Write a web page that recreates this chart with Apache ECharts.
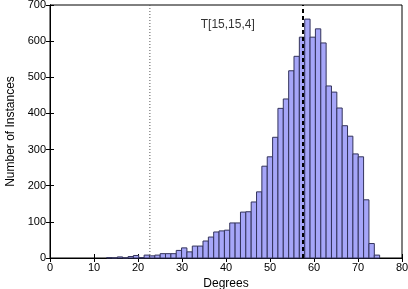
<!DOCTYPE html>
<html>
<head>
<meta charset="utf-8">
<script src="https://cdn.jsdelivr.net/npm/echarts@6/dist/echarts.min.js"></script>
<style>html,body{margin:0;padding:0;background:#fff}#c{width:408px;height:289px}</style>
</head>
<body>
<div id="c"></div>
<script>
// bin centers (degrees)
var binCenters = [13.48,14.70,15.91,17.13,18.35,19.56,20.78,22.00,23.21,24.43,25.65,26.86,28.08,29.30,30.51,31.73,32.95,34.16,35.38,36.60,37.81,39.03,40.25,41.46,42.68,43.90,45.11,46.33,47.55,48.76,49.98,51.20,52.41,53.63,54.85,56.06,57.28,58.50,59.71,60.93,62.15,63.36,64.58,65.80,67.01,68.23,69.45,70.66,71.88,73.10,74.31];
var binWidth = 1.2166;
var counts = [1,0,3,0,4,7,1,8,6,8,12,12,12,21,28,17,33,33,47,58,72,75,77,97,97,127,128,155,183,254,280,334,414,440,518,558,611,661,611,634,595,476,459,415,366,337,288,280,161,40,8];
var xTicks = [0,10,20,30,40,50,60,70,80];
var yTicks = [0,100,200,300,400,500,600,700];
var dashedLineX = 57.5;
var dottedLineX = 22.7;
var labelText = 'T[15,15,4]';
var labelPos = [40.4, 645];

var font = 'Liberation Sans, Arial, Helvetica, sans-serif';
var chart = echarts.init(document.getElementById('c'), null, {renderer: 'canvas'});
var histData = binCenters.map(function (c, i) { return [c, counts[i]]; });

var axisCommon = {
  axisLine: {show: true, lineStyle: {color: '#000', width: 1}},
  axisTick: {show: true, inside: true, length: 4, lineStyle: {color: '#000'}},
  splitLine: {show: false}
};

var option = {
  animation: false,
  backgroundColor: '#fff',
  grid: {left: 50, right: 6, top: 5, bottom: 31, containLabel: false, outerBoundsMode: 'none',
         show: true, borderColor: '#000', borderWidth: 1, backgroundColor: 'transparent'},
  xAxis: [
    Object.assign({
      type: 'value', min: xTicks[0], max: xTicks[xTicks.length - 1], interval: 10, position: 'bottom',
      name: 'Degrees', nameLocation: 'middle', nameGap: 13,
      nameTextStyle: {fontFamily: font, fontSize: 12, color: '#000'},
      axisLabel: {fontFamily: font, fontSize: 11, color: '#000', margin: 4}
    }, axisCommon),
    Object.assign({
      type: 'value', min: xTicks[0], max: xTicks[xTicks.length - 1], interval: 10, position: 'top',
      axisLabel: {show: false}
    }, axisCommon)
  ],
  yAxis: [
    Object.assign({
      type: 'value', min: yTicks[0], max: yTicks[yTicks.length - 1], interval: 100, position: 'left',
      name: 'Number of Instances', nameLocation: 'middle', nameGap: 32,
      nameTextStyle: {fontFamily: font, fontSize: 12, color: '#000'},
      axisLabel: {fontFamily: font, fontSize: 11, color: '#000', margin: 4}
    }, axisCommon),
    Object.assign({
      type: 'value', min: yTicks[0], max: yTicks[yTicks.length - 1], interval: 100, position: 'right',
      axisLabel: {show: false}
    }, axisCommon)
  ],
  series: [
    {
      type: 'custom',
      xAxisIndex: 0, yAxisIndex: 0,
      data: histData,
      renderItem: function (params, api) {
        var c = api.value(0), v = api.value(1);
        var p0 = api.coord([c - binWidth / 2, v]);
        var p1 = api.coord([c + binWidth / 2, 0]);
        return {
          type: 'rect',
          shape: {x: p0[0], y: p0[1], width: p1[0] - p0[0], height: p1[1] - p0[1]},
          style: {fill: '#a6a6f8', stroke: '#33335c', lineWidth: 1}
        };
      }
    },
    {
      type: 'line', xAxisIndex: 0, yAxisIndex: 0, symbol: 'none', silent: true,
      data: [[dottedLineX, 0], [dottedLineX, 700]],
      lineStyle: {color: '#555', width: 1, type: [1, 2]}
    },
    {
      type: 'line', xAxisIndex: 0, yAxisIndex: 0, symbol: 'none', silent: true,
      data: [[dashedLineX, 0], [dashedLineX, 700]],
      lineStyle: {color: '#000', width: 2, type: [4, 3]}
    },
    {
      type: 'scatter', xAxisIndex: 0, yAxisIndex: 0, symbolSize: 0, silent: true,
      data: [labelPos],
      label: {show: true, position: 'inside', formatter: labelText, fontFamily: font, fontSize: 12, color: '#000'}
    }
  ]
};
chart.setOption(option);
</script>
</body>
</html>
